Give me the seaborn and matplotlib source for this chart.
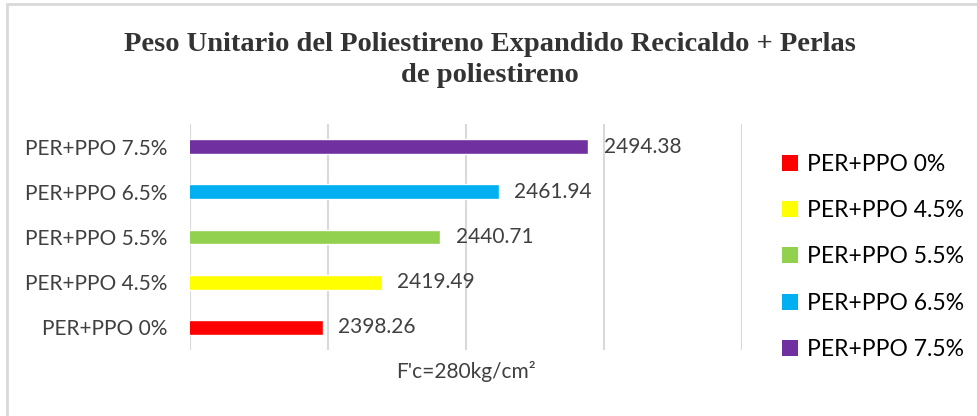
import matplotlib
matplotlib.use("Agg")
import matplotlib.pyplot as plt
import seaborn as sns
import pandas as pd
from matplotlib.patches import Patch, Rectangle

categories = ["PER+PPO 7.5%", "PER+PPO 6.5%", "PER+PPO 5.5%", "PER+PPO 4.5%", "PER+PPO 0%"]
values = [2494.38, 2461.94, 2440.71, 2419.49, 2398.26]
colors = ["#7030A0", "#00B0F0", "#92D050", "#FFFF00", "#FF0000"]
legend_order = ["PER+PPO 0%", "PER+PPO 4.5%", "PER+PPO 5.5%", "PER+PPO 6.5%", "PER+PPO 7.5%"]
title = "Peso Unitario del Poliestireno Expandido Recicaldo + Perlas\nde poliestireno"
xlabel = "F'c=280kg/cm²"

sns.set_theme(style="white")
plt.rcParams['font.family'] = ['Lato', 'DejaVu Sans']

df = pd.DataFrame({"cat": categories, "val": values})
palette = dict(zip(categories, colors))

fig = plt.figure(figsize=(9.77, 4.16), dpi=100)
ax = fig.add_axes([190/977, 1-350/416, (742-190)/977, (350-124)/416])

sns.barplot(data=df, y="cat", x="val", hue="cat", palette=palette, order=categories,
            hue_order=categories, dodge=False, width=0.33, legend=False, ax=ax, saturation=1)

ax.set_xlim(2350, 2550)
ax.set_ylim(4.5, -0.5)
ax.set_xticks([2350, 2400, 2450, 2500, 2550])
ax.set_xticklabels([])
ax.grid(axis="x", color="#d9d9d9", linewidth=1.5)
ax.grid(axis="y", visible=False)
ax.set_axisbelow(True)
for s in ax.spines.values():
    s.set_visible(False)
ax.tick_params(axis="both", length=0)
ax.tick_params(axis="y", pad=16, labelsize=15, labelcolor="#404040")
ax.set_ylabel("")
ax.set_xlabel(xlabel, fontsize=15, color="#404040", labelpad=4.5)

for cont in ax.containers:
    ax.bar_label(cont, fmt="%.2f", padding=11, fontsize=15, color="#404040")

handles = [Patch(facecolor=palette[c], edgecolor="none") for c in legend_order]
fig.legend(handles, legend_order, loc="upper left", bbox_to_anchor=(782/977, 1-154/416),
           frameon=False, fontsize=16.5, handlelength=0.7, handleheight=0.7,
           handletextpad=0.4, labelspacing=1.1, borderpad=0, borderaxespad=0,
           labelcolor="black")

fig.text(490/977, 1-32/416, title, ha="center", va="top", fontsize=20.5,
         fontweight="bold", family="Liberation Serif", color="#333333", linespacing=1.3)

fig.patches.append(Rectangle((7/977, -0.1), 1.2, 1.1-4/416, transform=fig.transFigure,
                             fill=False, edgecolor="#d9d9d9", linewidth=2))

fig.savefig("out.png", dpi=100)
